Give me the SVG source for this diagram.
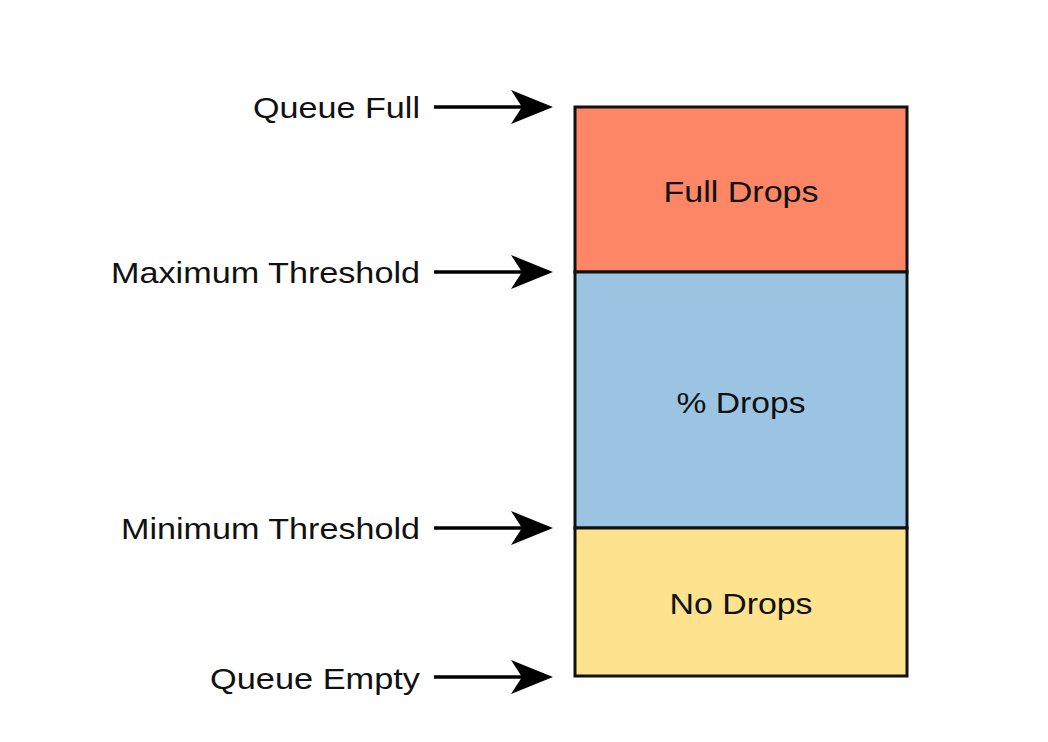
<svg xmlns="http://www.w3.org/2000/svg" width="1048" height="742" viewBox="0 0 1048 742">
<defs>
<style>
.lbl{font-family:"Liberation Sans",Arial,sans-serif;font-size:30px;fill:#111;}
.box{stroke:#111;stroke-width:3;}
.ln{stroke:#000;stroke-width:3.5;fill:none;}
.hd{fill:#000;}
</style>
</defs>
<rect width="1048" height="742" fill="#fff"/>
<g id="full-drops">
<rect class="box" x="575" y="107" width="332" height="165" fill="#fd8666"/>
<text class="lbl" x="741" y="202" text-anchor="middle" textLength="155" lengthAdjust="spacingAndGlyphs">Full Drops</text>
</g>
<g id="pct-drops">
<rect class="box" x="575" y="272" width="332" height="256" fill="#9bc4e2"/>
<text class="lbl" x="741" y="413" text-anchor="middle" textLength="129" lengthAdjust="spacingAndGlyphs">% Drops</text>
</g>
<g id="no-drops">
<rect class="box" x="575" y="528" width="332" height="148" fill="#fee28e"/>
<text class="lbl" x="741" y="614" text-anchor="middle" textLength="143" lengthAdjust="spacingAndGlyphs">No Drops</text>
</g>
<g id="label-queue-full">
<text class="lbl" x="420" y="118" text-anchor="end" textLength="167" lengthAdjust="spacingAndGlyphs">Queue Full</text>
</g>
<g id="label-max">
<text class="lbl" x="420" y="283" text-anchor="end" textLength="309" lengthAdjust="spacingAndGlyphs">Maximum Threshold</text>
</g>
<g id="label-min">
<text class="lbl" x="420" y="539" text-anchor="end" textLength="299" lengthAdjust="spacingAndGlyphs">Minimum Threshold</text>
</g>
<g id="label-empty">
<text class="lbl" x="420" y="689" text-anchor="end" textLength="210" lengthAdjust="spacingAndGlyphs">Queue Empty</text>
</g>
<g id="connectors">
<line class="ln" x1="434" y1="107" x2="522" y2="107"/>
<path class="hd" d="M553,107 L511,90 L522,107 L511,124 Z"/>
<line class="ln" x1="434" y1="272" x2="522" y2="272"/>
<path class="hd" d="M553,272 L511,255 L522,272 L511,289 Z"/>
<line class="ln" x1="434" y1="528" x2="522" y2="528"/>
<path class="hd" d="M553,528 L511,511 L522,528 L511,545 Z"/>
<line class="ln" x1="434" y1="677" x2="522" y2="677"/>
<path class="hd" d="M553,677 L511,660 L522,677 L511,694 Z"/>
</g>
</svg>
